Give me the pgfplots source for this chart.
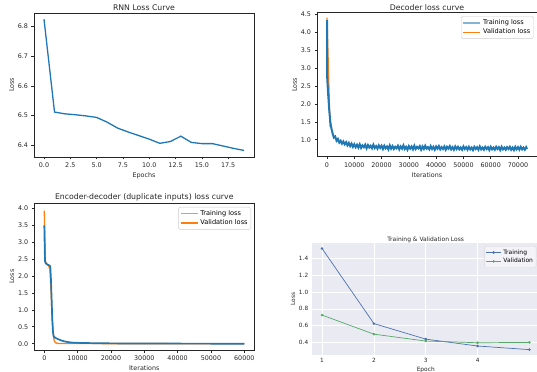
\documentclass[border=0pt]{standalone}
\usepackage{fontspec}
\setmainfont{DejaVu Sans}
\usepackage{pgfplots}
\pgfplotsset{compat=1.18}
\definecolor{c0}{HTML}{1F77B4}
\definecolor{c1}{HTML}{FF7F0E}
\definecolor{sbblue}{HTML}{4C72B0}
\definecolor{sbgreen}{HTML}{55A868}
\definecolor{sbbg}{HTML}{EAEAF2}
\definecolor{txt}{HTML}{262626}
\pgfplotsset{
  mpl/.style={
    scale only axis,
    axis line style={black!85, line width=0.6bp},
    tick style={black!85, line width=0.6bp},
    tick align=outside,
    tick pos=left,
    major tick length=2.5bp,
    ticklabel style={font=\fontsize{6.4}{7}\selectfont, text=txt},
    label style={font=\fontsize{6.4}{7}\selectfont, text=txt},
    title style={font=\fontsize{7.8}{9}\selectfont, text=txt, yshift=-7bp},
    /pgf/number format/assume math mode=true,
    xlabel style={yshift=2bp},
    ylabel style={yshift=-3bp},
    legend style={font=\fontsize{6.6}{7.5}\selectfont, draw=black!20, rounded corners=1.5bp,
      at={(0.985,0.975)}, anchor=north east, inner sep=1.2bp, row sep=-1.2pt},
    legend cell align=left,
    legend image code/.code={\draw[##1] (0bp,0bp) -- (17bp,0bp);},
  }
}
\begin{document}
\begin{tikzpicture}
\useasboundingbox (0,0) rectangle (537bp,372bp);
% Panel 1
\begin{axis}[mpl, at={(34bp,215bp)}, anchor=south west, width=220bp, height=144bp,
  xmin=-0.95, xmax=19.95, ymin=6.361, ymax=6.845,
  xtick={0,2.5,5,7.5,10,12.5,15,17.5}, ytick={6.4,6.5,6.6,6.7,6.8},
  xticklabel style={/pgf/number format/.cd, fixed, fixed zerofill, precision=1},
  yticklabel style={/pgf/number format/.cd, fixed, fixed zerofill, precision=1},
  title={RNN Loss Curve}, xlabel={Epochs}, ylabel={Loss}]
\addplot[c0, line width=1.3bp] coordinates {
(0,6.824) (1,6.512) (2,6.506) (3,6.503) (4,6.499) (5,6.494) (6,6.478) (7,6.458)
(8,6.445) (9,6.433) (10,6.421) (11,6.407) (12,6.413) (13,6.431) (14,6.410)
(15,6.406) (16,6.406) (17,6.398) (18,6.390) (19,6.383)};
\end{axis}
% Panel 2
\begin{axis}[mpl, at={(317bp,215.3bp)}, anchor=south west, width=220bp, height=144bp,
  xmin=-3666, xmax=76966, ymin=0.524, ymax=4.556,
  xtick={0,10000,20000,30000,40000,50000,60000,70000},
  ytick={1,1.5,2,2.5,3,3.5,4,4.5},
  scaled x ticks=false,
  xticklabel style={/pgf/number format/.cd, fixed, 1000 sep={}},
  yticklabel style={/pgf/number format/.cd, fixed, fixed zerofill, precision=1},
  title={Decoder loss curve}, xlabel={Iterations}, ylabel={Loss}]
\addlegendimage{c0!55, line width=1.6bp}\addlegendentry{Training loss}
\addlegendimage{c1, line width=1.3bp}\addlegendentry{Validation loss}
\addplot[c1, line width=1.3bp, forget plot] coordinates {(0,4.42) (1100,1.36)};
\addplot[c0, line width=2bp, forget plot] coordinates {
(0,4.35) (60,2.75) (400,2.3) (800,1.85) (1200,1.5) (1600,1.32)
(2000,1.19) (2500,1.06) (3000,1.09) (3500,0.97) (4000,1.02) (4500,0.92) (5000,0.97)
(5500,0.89) (6000,0.95) (6500,0.87) (7000,0.93) (7500,0.84) (8000,0.91) (8500,0.82)
(9000,0.89) (9500,0.80) (10000,0.87) (10500,0.79) (11000,0.86) (11500,0.78) (12000,0.87)
(12500,0.77) (13000,0.84) (13500,0.79) (14000,0.86) (14500,0.76) (15000,0.85) (15500,0.78)
(16000,0.83) (16500,0.76) (17000,0.86) (17500,0.77) (18000,0.82) (18500,0.75) (19000,0.84)
(19500,0.77) (20000,0.83) (20500,0.74) (21000,0.83) (21500,0.76) (22000,0.81) (22500,0.73)
(23000,0.84) (23500,0.75) (24000,0.82) (24500,0.74) (25000,0.80) (25500,0.76) (26000,0.83)
(26500,0.73) (27000,0.81) (27500,0.75) (28000,0.84) (28500,0.74) (29000,0.80) (29500,0.72)
(30000,0.82) (30500,0.75) (31000,0.81) (31500,0.73) (32000,0.83) (32500,0.74) (33000,0.80)
(33500,0.76) (34000,0.82) (34500,0.72) (35000,0.81) (35500,0.74) (36000,0.83) (36500,0.75)
(37000,0.79) (37500,0.73) (38000,0.82) (38500,0.74) (39000,0.80) (39500,0.72) (40000,0.81)
(40500,0.75) (41000,0.82) (41500,0.73) (42000,0.79) (42500,0.74) (43000,0.81) (43500,0.72)
(44000,0.80) (44500,0.75) (45000,0.82) (45500,0.73) (46000,0.79) (46500,0.72) (47000,0.81)
(47500,0.74) (48000,0.80) (48500,0.73) (49000,0.78) (49500,0.72) (50000,0.81) (50500,0.74)
(51000,0.79) (51500,0.72) (52000,0.80) (52500,0.73) (53000,0.78) (53500,0.71) (54000,0.80)
(54500,0.74) (55000,0.79) (55500,0.72) (56000,0.81) (56500,0.73) (57000,0.78) (57500,0.72)
(58000,0.80) (58500,0.74) (59000,0.79) (59500,0.71) (60000,0.80) (60500,0.73) (61000,0.78)
(61500,0.72) (62000,0.80) (62500,0.74) (63000,0.79) (63500,0.71) (64000,0.80) (64500,0.73)
(65000,0.78) (65500,0.72) (66000,0.79) (66500,0.74) (67000,0.80) (67500,0.72) (68000,0.78)
(68500,0.71) (69000,0.80) (69500,0.73) (70000,0.79) (70500,0.72) (71000,0.80) (71500,0.73)
(72000,0.78) (72500,0.72) (73000,0.79) (73300,0.74)};
\end{axis}
% Panel 3
\begin{axis}[mpl, at={(34.3bp,22bp)}, anchor=south west, width=220bp, height=146.7bp,
  xmin=-3000, xmax=63000, ymin=-0.186, ymax=4.15,
  xtick={0,10000,20000,30000,40000,50000,60000},
  ytick={0,0.5,1,1.5,2,2.5,3,3.5,4},
  scaled x ticks=false,
  xticklabel style={/pgf/number format/.cd, fixed, 1000 sep={}},
  yticklabel style={/pgf/number format/.cd, fixed, fixed zerofill, precision=1},
  title={Encoder-decoder (duplicate inputs) loss curve}, xlabel={Iterations}, ylabel={Loss}]
\addlegendimage{c0!55, line width=1.6bp}\addlegendentry{Training loss}
\addlegendimage{c1, line width=1.3bp}\addlegendentry{Validation loss}
\addplot[c1, line width=1.3bp, forget plot] coordinates {
(0,3.93) (300,2.45) (700,2.35) (1300,2.3) (1700,2.2) (2000,1.6) (2300,0.9) (2600,0.4)
(2900,0.12) (3300,0.03) (4000,0.01) (6000,0.004) (60000,0.0)};
\addplot[c0, line width=1.7bp, forget plot] coordinates {
(0,3.5) (200,2.45) (400,2.38) (800,2.35) (1200,2.33) (1600,2.31) (1800,2.28) (2000,1.9)
(2200,1.3) (2400,0.7) (2600,0.35) (2800,0.22) (3200,0.18) (4000,0.14) (5000,0.10)
(6000,0.07) (7000,0.05) (8000,0.035) (10000,0.025) (15000,0.015) (20000,0.01)
(30000,0.005) (60000,0.0)};
\end{axis}
% Panel 4
\begin{axis}[scale only axis, at={(311.7bp,17bp)}, anchor=south west, width=228.1bp, height=111.7bp,
  xmin=0.8, xmax=5.2, ymin=0.25, ymax=1.58,
  xtick={1,2,3,4}, ytick={0.4,0.6,0.8,1.0,1.2,1.4},
  axis background/.style={fill=sbbg},
  axis line style={draw=none}, major tick length=0pt,
  grid=major, grid style={white, line width=0.6bp},
  ticklabel style={font=\fontsize{5.8}{6.5}\selectfont, text=txt},
  label style={font=\fontsize{5.9}{6.5}\selectfont, text=txt},
  title style={font=\fontsize{6.0}{7}\selectfont, text=txt, yshift=-8.5bp},
  /pgf/number format/assume math mode=true,
  yticklabel style={/pgf/number format/.cd, fixed, fixed zerofill, precision=1},
  xlabel style={yshift=3bp}, ylabel style={yshift=-3bp},
  title={Training \& Validation Loss}, xlabel={Epoch}, ylabel={Loss},
  legend style={font=\fontsize{6.0}{7}\selectfont, draw=black!15, fill=sbbg!50!white,
    rounded corners=1.5bp, at={(0.985,0.975)}, anchor=north east, inner sep=1.2bp, row sep=-1.2pt},
  legend cell align=left,
  legend image code/.code={\draw[#1] (0bp,0bp) -- (15bp,0bp); \fill[#1] (7.5bp,0bp) circle (0.9bp);}]
\addplot[sbblue, line width=0.7bp, mark=*, mark size=0.9bp] coordinates {
(1,1.518) (2,0.624) (3,0.439) (4,0.357) (5,0.314)};
\addlegendentry{Training}
\addplot[sbgreen, line width=0.7bp, mark=*, mark size=0.9bp] coordinates {
(1,0.725) (2,0.498) (3,0.416) (4,0.396) (5,0.40)};
\addlegendentry{Validation}
\end{axis}
\end{tikzpicture}
\end{document}
